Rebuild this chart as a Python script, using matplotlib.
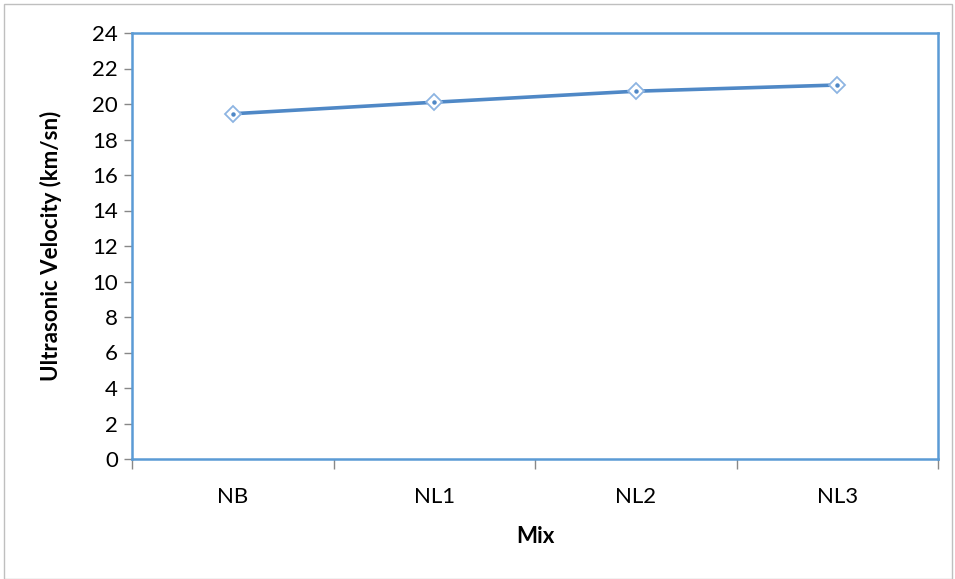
import matplotlib
matplotlib.use("Agg")
import matplotlib.pyplot as plt
from matplotlib.patches import Rectangle

categories = ["NB", "NL1", "NL2", "NL3"]
velocity = [19.45, 20.1, 20.72, 21.07]
y_ticks = [0, 2, 4, 6, 8, 10, 12, 14, 16, 18, 20, 22, 24]

plt.rcParams['font.family'] = ['Lato', 'DejaVu Sans']

fig = plt.figure(figsize=(9.55, 5.79), dpi=100)
ax = fig.add_axes([132/955, 1-459/579, (938-132)/955, (459-33)/579])

x = list(range(len(categories)))
line_col = "#4F88C6"
ax.plot(x, velocity, color=line_col, lw=2.6, zorder=3, solid_capstyle='round')
ax.plot(x, velocity, linestyle='none', marker='D', markersize=8, markerfacecolor='white',
        markeredgecolor='#8DB4E2', markeredgewidth=1.3, zorder=4)
ax.plot(x, velocity, linestyle='none', marker='o', markersize=2.2, color=line_col, zorder=5)

ax.set_xlim(-0.5, len(categories)-0.5)
ax.set_ylim(0, 24)
ax.set_yticks(y_ticks)
ax.set_yticklabels([str(t) for t in y_ticks], fontsize=16)
ax.set_xticks(x)
ax.set_xticklabels(categories, fontsize=16)
ax.set_xticks([i - 0.5 for i in range(len(categories)+1)], minor=True)
ax.tick_params(axis='x', which='major', length=0, pad=20)
ax.tick_params(axis='x', which='minor', length=7, color='#888888', width=1)
ax.tick_params(axis='y', which='major', length=6, color='#888888', width=1, pad=4)

for s in ax.spines.values():
    s.set_color('#5B9BD5')
    s.set_linewidth(1.8)

ax.set_ylabel("Ultrasonic Velocity (km/sn)", fontsize=16, fontweight='bold', labelpad=22)
ax.set_xlabel("Mix", fontsize=16, fontweight='bold', labelpad=14)

fig.patches.append(Rectangle((4/955, 0.0), 948/955, 1-4/579, transform=fig.transFigure,
                             fill=False, edgecolor='#BFBFBF', lw=1))

fig.savefig("out.png", dpi=100)
